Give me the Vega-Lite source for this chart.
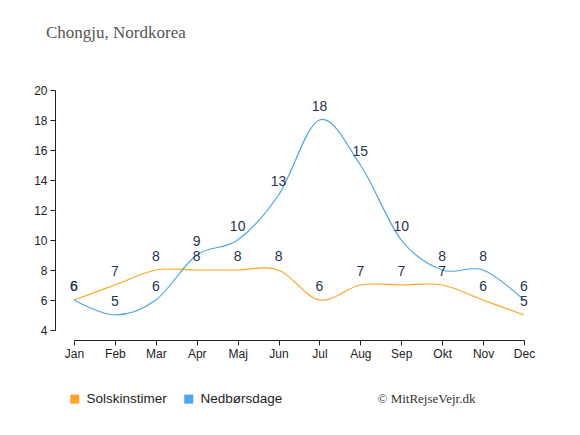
{
  "$schema": "https://vega.github.io/schema/vega-lite/v6.json",
  "width": 450,
  "height": 240,
  "autosize": {"type": "none"},
  "padding": {"left": 74, "top": 90, "right": 56, "bottom": 105},
  "background": "#ffffff",
  "config": {"view": {"stroke": null}},
  "title": {
    "text": "Chongju, Nordkorea",
    "font": "Liberation Serif",
    "fontSize": 17,
    "fontWeight": "normal",
    "color": "#555555",
    "anchor": "start",
    "frame": "group",
    "dx": -28,
    "offset": 42
  },
  "data": {
    "values": [
      {"month": "Jan", "series": "Solskinstimer", "value": 6},
      {"month": "Feb", "series": "Solskinstimer", "value": 7},
      {"month": "Mar", "series": "Solskinstimer", "value": 8},
      {"month": "Apr", "series": "Solskinstimer", "value": 8},
      {"month": "Maj", "series": "Solskinstimer", "value": 8},
      {"month": "Jun", "series": "Solskinstimer", "value": 8},
      {"month": "Jul", "series": "Solskinstimer", "value": 6},
      {"month": "Aug", "series": "Solskinstimer", "value": 7},
      {"month": "Sep", "series": "Solskinstimer", "value": 7},
      {"month": "Okt", "series": "Solskinstimer", "value": 7},
      {"month": "Nov", "series": "Solskinstimer", "value": 6},
      {"month": "Dec", "series": "Solskinstimer", "value": 5},
      {"month": "Jan", "series": "Nedbørsdage", "value": 6},
      {"month": "Feb", "series": "Nedbørsdage", "value": 5},
      {"month": "Mar", "series": "Nedbørsdage", "value": 6},
      {"month": "Apr", "series": "Nedbørsdage", "value": 9},
      {"month": "Maj", "series": "Nedbørsdage", "value": 10},
      {"month": "Jun", "series": "Nedbørsdage", "value": 13},
      {"month": "Jul", "series": "Nedbørsdage", "value": 18},
      {"month": "Aug", "series": "Nedbørsdage", "value": 15},
      {"month": "Sep", "series": "Nedbørsdage", "value": 10},
      {"month": "Okt", "series": "Nedbørsdage", "value": 8},
      {"month": "Nov", "series": "Nedbørsdage", "value": 8},
      {"month": "Dec", "series": "Nedbørsdage", "value": 6}
    ]
  },
  "encoding": {
    "x": {
      "field": "month",
      "type": "ordinal",
      "sort": null,
      "scale": {"type": "point", "padding": 0},
      "axis": {
        "labelAngle": 0,
        "offset": 10,
        "tickSize": 5,
        "labelFontSize": 12,
        "labelFont": "Liberation Sans",
        "labelColor": "#222222",
        "labelPadding": 3,
        "domainColor": "#222222",
        "tickColor": "#222222",
        "grid": false,
        "title": "© MitRejseVejr.dk",
        "titleFont": "Liberation Serif",
        "titleFontSize": 13,
        "titleFontWeight": "normal",
        "titleColor": "#333333",
        "titleAlign": "left",
        "titleBaseline": "middle",
        "titleX": 303,
        "titleY": 58
      }
    },
    "y": {
      "field": "value",
      "type": "quantitative",
      "scale": {"domain": [4, 20], "nice": false, "zero": false},
      "axis": {
        "values": [4, 6, 8, 10, 12, 14, 16, 18, 20],
        "offset": 19,
        "tickSize": 5,
        "labelFontSize": 12,
        "labelFont": "Liberation Sans",
        "labelColor": "#222222",
        "labelPadding": 3,
        "domainColor": "#222222",
        "tickColor": "#222222",
        "grid": false,
        "title": null
      }
    },
    "color": {
      "field": "series",
      "type": "nominal",
      "sort": null,
      "scale": {"domain": ["Solskinstimer", "Nedbørsdage"], "range": ["#ffa526", "#4ca5ee"]},
      "legend": {
        "title": null,
        "orient": "none",
        "direction": "horizontal",
        "legendX": -6,
        "legendY": 302,
        "symbolType": "square",
        "symbolSize": 81,
        "labelFontSize": 13.5,
        "labelFont": "Liberation Sans",
        "labelColor": "#222222",
        "labelOffset": 5,
        "columnPadding": 15,
        "encode": {
          "symbols": {
            "update": {
              "fill": {"scale": "color", "field": "value"},
              "strokeWidth": {"value": 0},
              "opacity": {"value": 1}
            }
          }
        }
      }
    }
  },
  "layer": [
    {
      "mark": {"type": "line", "interpolate": "cardinal", "strokeWidth": 1.2}
    },
    {
      "mark": {
        "type": "text",
        "dy": -13,
        "fontSize": 14,
        "font": "Liberation Sans",
        "baseline": "middle",
        "color": "#27344f"
      },
      "encoding": {
        "text": {"field": "value", "type": "quantitative"},
        "color": {"value": "#27344f"}
      }
    }
  ]
}
